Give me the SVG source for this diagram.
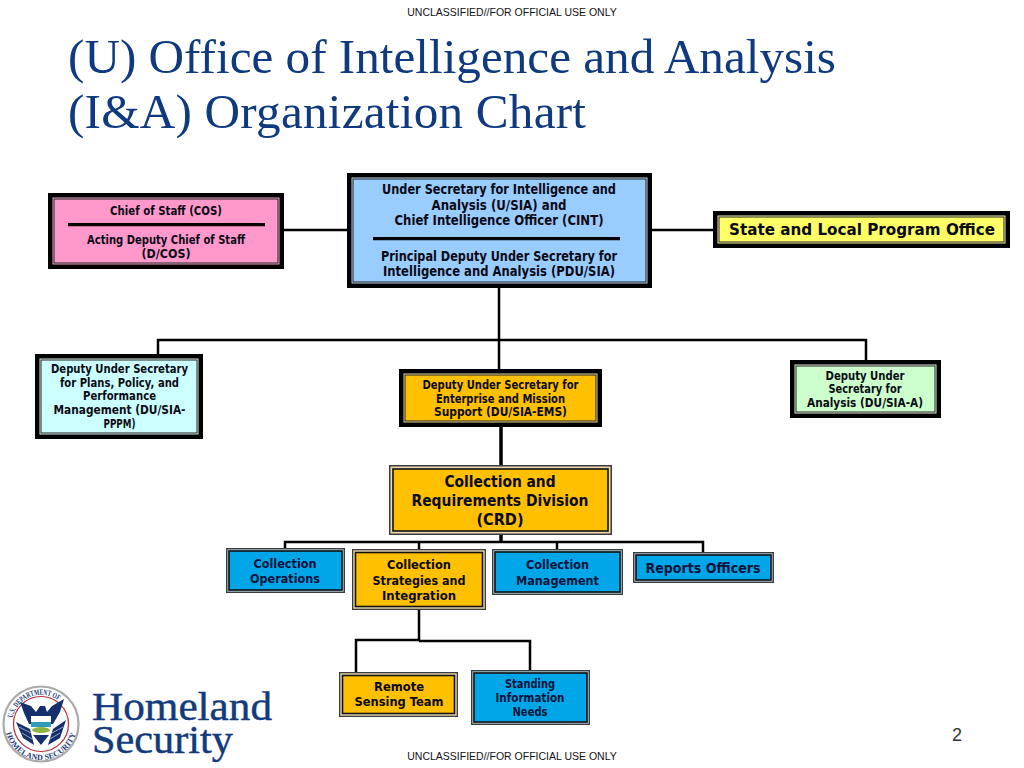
<svg xmlns="http://www.w3.org/2000/svg" width="1024" height="768" viewBox="0 0 1024 768">
<style>
.b{font-family:"DejaVu Sans",Verdana,sans-serif;font-weight:700;text-anchor:middle;fill:#0a0a14}
.n{fill:#03123a}
.s11{font-size:11.500px}
.s12{font-size:12.500px}
.s13{font-size:13.500px}
.s15{font-size:15px}
.s16{font-size:16.500px}
.t{font-family:"Liberation Serif",serif;font-size:49.200px;fill:#0f3a80}
.u{font-family:"Liberation Sans",Arial,sans-serif;font-size:10.500px;text-anchor:middle;fill:#111}
.h{font-family:"Liberation Serif",serif;font-size:41px;fill:#123a7c;stroke:#123a7c;stroke-width:.45}
.c{fill:none;stroke:#000;stroke-width:2.500}
.k{fill:#000}
.g{fill:#3c3c3c}
.i{stroke:#222;stroke-width:1}
.j{stroke:#111;stroke-width:1.600}
.d{stroke:#000;stroke-width:3.200}
.seal{font-family:"Liberation Serif",serif;font-size:8px;font-weight:700;fill:#1b3a78}
.navy{fill:#16306e}
</style>
<defs>
<path id="sealTop" d="M12.600 718A29 29 0 0 1 68.300 714"/>
<path id="sealBot" d="M5.500 730A36 36 0 0 0 76.500 730"/>
</defs>
<rect width="1024" height="768" fill="#fff"/>
<text class="u" x="512" y="16">UNCLASSIFIED//FOR OFFICIAL USE ONLY</text>
<text class="t" x="68" y="73" textLength="768">(U) Office of Intelligence and Analysis</text>
<text class="t" x="68" y="128" textLength="518">(I&amp;A) Organization Chart</text>
<g id="connectors">
<path class="c" d="M284 230H348M651 230H715"/>
<path class="c" d="M499 288V370M158 354V340H866V361"/>
<path class="c" style="stroke-width:3.500" d="M501 427V465M501 535V542"/>
<path class="c" d="M285 548V542H703V552M419 542V550M557 542V550"/>
<path class="c" d="M419 610V640M356 672V640H419M419 641H530V670"/>
</g>
<g id="cos">
<rect class="k" x="48" y="193" width="236" height="76"/>
<rect x="52.500" y="197.500" width="227" height="67" fill="#e8a8c8"/>
<rect class="i" x="54" y="199" width="224" height="64" fill="#ff99cc"/>
<path class="d" d="M68 224.700H265"/>
<text class="b s11" x="166" y="215" textLength="112" lengthAdjust="spacingAndGlyphs">Chief of Staff (COS)</text>
<text class="b s11" x="166" y="244" textLength="158" lengthAdjust="spacingAndGlyphs">Acting Deputy Chief of Staff</text>
<text class="b s11" x="166" y="258" textLength="49" lengthAdjust="spacingAndGlyphs">(D/COS)</text>
</g>
<g id="usia">
<rect class="k" x="347" y="173" width="305" height="115"/>
<rect x="351.500" y="177.500" width="296" height="106" fill="#b8d4f0"/>
<rect class="i" x="353" y="179" width="293" height="103" fill="#99ccff"/>
<path class="d" d="M373 238.700H620"/>
<text class="b s13" x="499" y="194" textLength="234" lengthAdjust="spacingAndGlyphs">Under Secretary for Intelligence and</text>
<text class="b s13" x="499" y="210" textLength="135" lengthAdjust="spacingAndGlyphs">Analysis (U/SIA) and</text>
<text class="b s13" x="499" y="225" textLength="209" lengthAdjust="spacingAndGlyphs">Chief Intelligence Officer (CINT)</text>
<text class="b s13" x="499" y="261" textLength="236" lengthAdjust="spacingAndGlyphs">Principal Deputy Under Secretary for</text>
<text class="b s13" x="499" y="276" textLength="232" lengthAdjust="spacingAndGlyphs">Intelligence and Analysis (PDU/SIA)</text>
</g>
<g id="slpo">
<rect class="k" x="713" y="211" width="297" height="37"/>
<rect x="717.500" y="215.500" width="288" height="28" fill="#f4f4a0"/>
<rect class="i" x="719" y="217" width="285" height="25" fill="#ffff66"/>
<text class="b s16" x="862" y="235" textLength="266" lengthAdjust="spacingAndGlyphs">State and Local Program Office</text>
</g>
<g id="ppm">
<rect class="k" x="35" y="354" width="168" height="85"/>
<rect x="39.500" y="358.500" width="159" height="76" fill="#d8e8e8"/>
<rect class="i" x="41" y="360" width="156" height="73" fill="#ccffff"/>
<text class="b s11" x="119.500" y="373" textLength="137" lengthAdjust="spacingAndGlyphs">Deputy Under Secretary</text>
<text class="b s11" x="119.500" y="387" textLength="119" lengthAdjust="spacingAndGlyphs">for Plans, Policy, and</text>
<text class="b s11" x="119.500" y="400" textLength="73" lengthAdjust="spacingAndGlyphs">Performance</text>
<text class="b s11" x="119.500" y="414" textLength="132" lengthAdjust="spacingAndGlyphs">Management (DU/SIA-</text>
<text class="b s11" x="119.500" y="428" textLength="32" lengthAdjust="spacingAndGlyphs">PPPM)</text>
</g>
<g id="ems">
<rect class="k" x="399" y="369" width="203" height="58"/>
<rect x="403.500" y="373.500" width="194" height="49" fill="#e8d8a0"/>
<rect class="i" x="405" y="375" width="191" height="46" fill="#ffc000"/>
<text class="b s11" x="500.500" y="389" textLength="156" lengthAdjust="spacingAndGlyphs">Deputy Under Secretary for</text>
<text class="b s11" x="500.500" y="402.500" textLength="129" lengthAdjust="spacingAndGlyphs">Enterprise and Mission</text>
<text class="b s11" x="500.500" y="416" textLength="133" lengthAdjust="spacingAndGlyphs">Support (DU/SIA-EMS)</text>
</g>
<g id="dua">
<rect class="k" x="790" y="360" width="151" height="58"/>
<rect x="794.500" y="364.500" width="142" height="49" fill="#dcecdc"/>
<rect class="i" x="796" y="366" width="139" height="46" fill="#ccffcc"/>
<text class="b s11" x="865" y="380" textLength="79" lengthAdjust="spacingAndGlyphs">Deputy Under</text>
<text class="b s11" x="865" y="393" textLength="73" lengthAdjust="spacingAndGlyphs">Secretary for</text>
<text class="b s11" x="865" y="407" textLength="116" lengthAdjust="spacingAndGlyphs">Analysis (DU/SIA-A)</text>
</g>
<g id="crd">
<rect class="g" x="389" y="465" width="223" height="70"/>
<rect x="390.500" y="466.500" width="220" height="67" fill="#ead9b0"/>
<rect class="j" x="393" y="469" width="215" height="62" fill="#ffc000"/>
<text class="b s15" x="500" y="487" textLength="111" lengthAdjust="spacingAndGlyphs">Collection and</text>
<text class="b s15" x="500" y="506" textLength="177" lengthAdjust="spacingAndGlyphs">Requirements Division</text>
<text class="b s15" x="500" y="525" textLength="47" lengthAdjust="spacingAndGlyphs">(CRD)</text>
</g>
<g id="ops">
<rect class="g" x="226" y="548" width="119" height="45"/>
<rect x="227.300" y="549.300" width="116.400" height="42.400" fill="#a8c8d8"/>
<rect class="j" x="229" y="551" width="113" height="39" fill="#00a6e8"/>
<text class="b s12 n" x="285" y="568" textLength="63" lengthAdjust="spacingAndGlyphs">Collection</text>
<text class="b s12 n" x="285" y="583" textLength="70" lengthAdjust="spacingAndGlyphs">Operations</text>
</g>
<g id="csi">
<rect class="g" x="352" y="549" width="134" height="61"/>
<rect x="353.300" y="550.300" width="131.400" height="58.400" fill="#ead9b0"/>
<rect class="j" x="355.500" y="552.500" width="127" height="54" fill="#ffc000"/>
<text class="b s12" x="419" y="569" textLength="64" lengthAdjust="spacingAndGlyphs">Collection</text>
<text class="b s12" x="419" y="585" textLength="93" lengthAdjust="spacingAndGlyphs">Strategies and</text>
<text class="b s12" x="419" y="600" textLength="74" lengthAdjust="spacingAndGlyphs">Integration</text>
</g>
<g id="mgmt">
<rect class="g" x="492" y="549" width="131" height="46"/>
<rect x="493.300" y="550.300" width="128.400" height="43.400" fill="#a8c8d8"/>
<rect class="j" x="495" y="552" width="125" height="40" fill="#00a6e8"/>
<text class="b s12 n" x="557.500" y="569" textLength="63" lengthAdjust="spacingAndGlyphs">Collection</text>
<text class="b s12 n" x="557.500" y="585" textLength="83" lengthAdjust="spacingAndGlyphs">Management</text>
</g>
<g id="reports">
<rect class="g" x="633" y="552" width="141" height="31"/>
<rect x="634.300" y="553.300" width="138.400" height="28.400" fill="#a8c8d8"/>
<rect class="j" x="636" y="555" width="135" height="25" fill="#00a6e8"/>
<text class="b s13 n" x="703" y="572.500" textLength="115" lengthAdjust="spacingAndGlyphs">Reports Officers</text>
</g>
<g id="remote">
<rect class="g" x="339" y="672" width="119" height="45"/>
<rect x="340.300" y="673.300" width="116.400" height="42.400" fill="#ead9b0"/>
<rect class="j" x="342.500" y="675.500" width="112" height="38" fill="#ffc000"/>
<text class="b s12" x="399" y="691" textLength="50" lengthAdjust="spacingAndGlyphs">Remote</text>
<text class="b s12" x="399" y="706" textLength="89" lengthAdjust="spacingAndGlyphs">Sensing Team</text>
</g>
<g id="sin">
<rect class="g" x="471" y="670" width="119" height="55"/>
<rect x="472.300" y="671.300" width="116.400" height="52.400" fill="#a8c8d8"/>
<rect class="j" x="474" y="673" width="113" height="49" fill="#00a6e8"/>
<text class="b s11 n" x="530" y="688" textLength="50" lengthAdjust="spacingAndGlyphs">Standing</text>
<text class="b s11 n" x="530" y="702" textLength="69" lengthAdjust="spacingAndGlyphs">Information</text>
<text class="b s11 n" x="530" y="715.500" textLength="35" lengthAdjust="spacingAndGlyphs">Needs</text>
</g>
<g id="logo">
<circle cx="41" cy="724" r="37.500" fill="#fff" stroke="#aaa" stroke-width="2.200"/>
<circle cx="41" cy="724" r="27.500" fill="#fff" stroke="#b5323c" stroke-width="1.200"/>
<text class="seal"><textPath href="#sealTop" textLength="58" lengthAdjust="spacingAndGlyphs">U.S. DEPARTMENT OF</textPath></text>
<text class="seal"><textPath href="#sealBot" startOffset="3" textLength="94">HOMELAND SECURITY</textPath></text>
<path class="navy" d="M20 702L31 706L36 712L40 706H45L47 712L52 706L64 699L60 712L53 724H29L24 713Z"/>
<path class="navy" d="M16 722L30 729L34 745L23 738Z"/>
<path class="navy" d="M66 720L53 729L48 745L60 738Z"/>
<path d="M19 727L31 733M22 733L32 739M63 727L52 733M60 733L50 739" stroke="#9aa7bb" stroke-width="1" fill="none"/>
<rect x="31" y="716" width="20" height="6" fill="#fff"/>
<rect x="31" y="722" width="20" height="5" fill="#2f9bb5"/>
<ellipse cx="41" cy="730" rx="9" ry="3" fill="#8fb33f"/>
<path class="navy" d="M33 735H49L41 745Z"/>
<text class="h" x="92" y="720" textLength="180" lengthAdjust="spacingAndGlyphs">Homeland</text>
<text class="h" x="92" y="753" textLength="141" lengthAdjust="spacingAndGlyphs">Security</text>
</g>
<text x="957" y="741" font-family="Liberation Sans,Arial,sans-serif" font-size="18" text-anchor="middle" fill="#333">2</text>
<text class="u" x="512" y="760">UNCLASSIFIED//FOR OFFICIAL USE ONLY</text>
</svg>
